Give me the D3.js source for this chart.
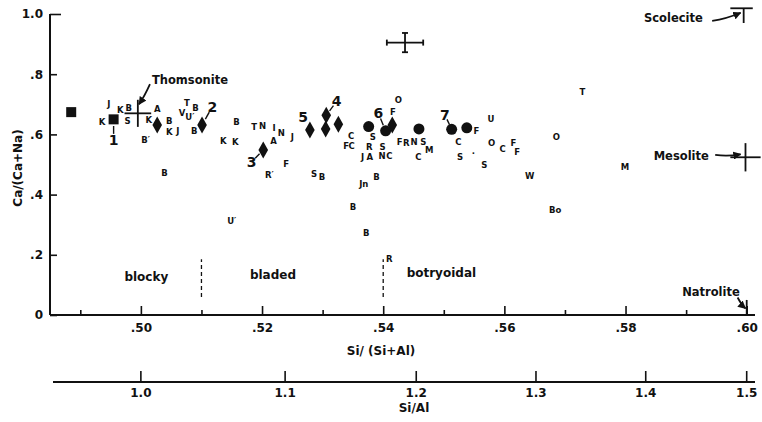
<!DOCTYPE html>
<html>
<head>
<meta charset="utf-8">
<script src="https://cdn.jsdelivr.net/npm/d3@7"></script>
<style>
  body { margin: 0; background: #fff; }
  text { font-family: "DejaVu Sans", sans-serif; font-weight: 700; fill: #111; }
</style>
</head>
<body>
<div id="chart"></div>
<script>
// Datos
const siTicks = [0.50, 0.52, 0.54, 0.56, 0.58, 0.60];
const siMinorTicks = [0.49, 0.51, 0.53, 0.55, 0.57, 0.59];
const caTicks = [0, 0.2, 0.4, 0.6, 0.8, 1.0];
const siAlTicks = [1.0, 1.1, 1.2, 1.3, 1.4, 1.5];

// analysed samples [Si/(Si+Al), Ca/(Ca+Na)]
const squares = [[0.4885, 0.674], [0.4955, 0.650]];
const diamonds = [[0.5027, 0.631], [0.5101, 0.631], [0.5202, 0.548], [0.5279, 0.615],
  [0.5306, 0.664], [0.5305, 0.618], [0.5326, 0.634], [0.5415, 0.631]];
const circles = [[0.5376, 0.626], [0.5404, 0.612], [0.5459, 0.618], [0.5513, 0.617], [0.5538, 0.622]];

// numbered samples: label, marker x, marker y, label x, label y, leader line
const numbered = [
  ["1", 0.4955, 0.650, 0.4955, 0.581, true],
  ["2", 0.5101, 0.631, 0.5118, 0.692, true],
  ["3", 0.5202, 0.548, 0.5183, 0.509, true],
  ["4", 0.5306, 0.664, 0.5323, 0.709, true],
  ["5", 0.5279, 0.615, 0.5268, 0.657, false],
  ["6", 0.5404, 0.612, 0.5392, 0.670, true],
  ["7", 0.5513, 0.617, 0.5502, 0.664, true]
];

// literature data (letter codes)
const letters = [
  ["K", 0.4936, 0.642], ["J", 0.4947, 0.701], ["K", 0.4966, 0.681], ["B", 0.4980, 0.687],
  ["S", 0.4978, 0.645], ["K", 0.5013, 0.648], ["A", 0.5027, 0.685], ["B", 0.5047, 0.645],
  ["B\u2032", 0.5008, 0.581], ["K", 0.5047, 0.609], ["J", 0.5061, 0.611], ["T", 0.5076, 0.705],
  ["B", 0.5090, 0.687], ["V", 0.5068, 0.670], ["U\u2032", 0.5081, 0.657], ["B", 0.5088, 0.612],
  ["K", 0.5136, 0.578], ["B", 0.5039, 0.471], ["B", 0.5158, 0.642], ["K", 0.5156, 0.576],
  ["T", 0.5187, 0.626], ["N", 0.5201, 0.628], ["I", 0.5220, 0.620], ["N", 0.5232, 0.606],
  ["A", 0.5219, 0.579], ["J", 0.5250, 0.590], ["R\u2032", 0.5212, 0.465], ["F", 0.5240, 0.502],
  ["S", 0.5286, 0.468], ["B", 0.5299, 0.458], ["C", 0.5347, 0.595], ["F", 0.5339, 0.561],
  ["C", 0.5348, 0.561], ["S", 0.5383, 0.592], ["R", 0.5377, 0.557], ["J", 0.5366, 0.524],
  ["A", 0.5378, 0.524], ["S", 0.5399, 0.557], ["N", 0.5398, 0.528], ["C", 0.5410, 0.528],
  ["F", 0.5416, 0.675], ["O", 0.5425, 0.714], ["Jn", 0.5368, 0.435], ["B", 0.5389, 0.459],
  ["B", 0.5350, 0.360], ["B", 0.5372, 0.273], ["U\u2032", 0.5150, 0.312], ["R", 0.5410, 0.186],
  ["F", 0.5427, 0.576], ["R", 0.5438, 0.572], ["N", 0.5451, 0.576], ["S", 0.5466, 0.576],
  ["M", 0.5476, 0.548], ["C", 0.5458, 0.524], ["C", 0.5524, 0.576], ["S", 0.5527, 0.526],
  [".", 0.5549, 0.545], ["F", 0.5554, 0.612], ["U", 0.5578, 0.650], ["O", 0.5579, 0.570],
  ["C", 0.5597, 0.551], ["F", 0.5615, 0.573], ["F", 0.5621, 0.543], ["S", 0.5567, 0.498],
  ["W", 0.5642, 0.462], ["O", 0.5686, 0.591], ["Bo", 0.5684, 0.349], ["T", 0.5729, 0.742],
  ["M", 0.5799, 0.491]
];

// composition ranges: name, x, y, half-range x, half-range y
const crosses = [
  ["Thomsonite", 0.4995, 0.670, 0.0022, 0.045],
  ["Mesolite", 0.5998, 0.524, 0.0025, 0.047]
];
const errorBar = [0.5436, 0.905, 0.003, 0.032];

// mineral labels: text, label x, label y, arrow from, arrow to
const minerals = [
  ["Thomsonite", 0.5081, 0.781, [0.5015, 0.767], [0.4997, 0.700]],
  ["Scolecite", 0.5879, 0.986, [0.5943, 0.977], [0.5990, 1.004]],
  ["Mesolite", 0.5892, 0.529, [0.5948, 0.532], [0.5990, 0.534]],
  ["Natrolite", 0.5941, 0.076, [0.5985, 0.058], [0.5998, 0.022]]
];

const habits = [["blocky", 0.5009, 0.126], ["bladed", 0.5218, 0.133], ["botryoidal", 0.5496, 0.139]];
const habitLimits = [0.51, 0.54];

svgWidth = 762;
svgHeight = 422;

const svg = d3.select("#chart")
  .append("svg")
  .attr("width", svgWidth)
  .attr("height", svgHeight);

const x = d3.scaleLinear().domain([0.485, 0.60137]).range([50, 755]);
const y = d3.scaleLinear().domain([0, 1]).range([315, 14]);
const xr = r => x(r / (1 + r)); // Si/Al -> position

// arrow head
svg.append("defs").append("marker")
  .attr("id", "head")
  .attr("viewBox", "0 0 10 10")
  .attr("refX", 9).attr("refY", 5)
  .attr("markerWidth", 4.5).attr("markerHeight", 4.5)
  .attr("orient", "auto")
  .append("path")
  .attr("d", "M0,0 L10,5 L0,10 Z")
  .attr("fill", "#111");

// ejes
const ax = svg.append("g").attr("transform", `translate(0, ${y(0)})`)
  .call(d3.axisBottom(x).tickValues(siTicks).tickSize(-9).tickSizeOuter(0).tickPadding(8)
    .tickFormat(d => d3.format(".2f")(d).replace(/^0/, "")));
ax.select(".domain").remove();
ax.selectAll("text").attr("font-size", 12);

const axm = svg.append("g").attr("transform", `translate(0, ${y(0)})`)
  .call(d3.axisBottom(x).tickValues(siMinorTicks).tickSize(-5).tickFormat(""));
axm.select(".domain").remove();

const ay = svg.append("g").attr("transform", `translate(${x.range()[0]}, 0)`)
  .call(d3.axisLeft(y).tickValues(caTicks).tickSize(-7).tickSizeOuter(0).tickPadding(7)
    .tickFormat(d => d === 0 ? "0" : d === 1 ? "1.0" : d3.format(".1f")(d).replace(/^0/, "")));
ay.select(".domain").remove();
ay.selectAll("text").attr("font-size", 12);
ay.selectAll(".tick line").filter(d => d === 1).attr("x2", 11);

svg.selectAll(".tick line").attr("stroke", "#111").attr("stroke-width", 1.6);

svg.append("line")
  .attr("x1", x.range()[0]).attr("x2", x.range()[1])
  .attr("y1", y(0)).attr("y2", y(0))
  .attr("stroke", "#111").attr("stroke-width", 2);
svg.append("line")
  .attr("x1", x.range()[0]).attr("x2", x.range()[0])
  .attr("y1", y(0)).attr("y2", y(1))
  .attr("stroke", "#111").attr("stroke-width", 2);

// Si/Al axis
const siAlY = 382;
svg.append("line")
  .attr("x1", 53).attr("x2", 755)
  .attr("y1", siAlY).attr("y2", siAlY)
  .attr("stroke", "#111").attr("stroke-width", 2);
svg.selectAll(".sial-tick").data(siAlTicks).enter().append("line")
  .attr("x1", d => xr(d)).attr("x2", d => xr(d))
  .attr("y1", siAlY).attr("y2", siAlY - 11)
  .attr("stroke", "#111").attr("stroke-width", 1.6);
svg.selectAll(".sial-label").data(siAlTicks).enter().append("text")
  .attr("x", d => xr(d)).attr("y", siAlY + 15)
  .attr("text-anchor", "middle").attr("font-size", 12)
  .text(d => d3.format(".1f")(d));

// titulos
svg.append("text").attr("x", 381).attr("y", 355).attr("text-anchor", "middle")
  .attr("font-size", 12).text("Si/ (Si+Al)");
svg.append("text").attr("x", 414).attr("y", 412).attr("text-anchor", "middle")
  .attr("font-size", 12).text("Si/Al");
svg.append("text").attr("transform", "translate(22,168) rotate(-90)")
  .attr("text-anchor", "middle").attr("font-size", 12).text("Ca/(Ca+Na)");

// habit fields
svg.selectAll(".limit").data(habitLimits).enter().append("line")
  .attr("x1", d => x(d)).attr("x2", d => x(d))
  .attr("y1", y(0.06)).attr("y2", y(0.185))
  .attr("stroke", "#111").attr("stroke-width", 1.3).attr("stroke-dasharray", "4,3");
svg.selectAll(".habit").data(habits).enter().append("text")
  .attr("x", d => x(d[1])).attr("y", d => y(d[2]))
  .attr("dy", "0.35em").attr("text-anchor", "middle").attr("font-size", 12)
  .text(d => d[0]);

// crosses
const cr = svg.selectAll(".cross").data(crosses).enter().append("g");
cr.append("line")
  .attr("x1", d => x(d[1] - d[3])).attr("x2", d => x(d[1] + d[3]))
  .attr("y1", d => y(d[2])).attr("y2", d => y(d[2]))
  .attr("stroke", "#111").attr("stroke-width", 1.8);
cr.append("line")
  .attr("x1", d => x(d[1])).attr("x2", d => x(d[1]))
  .attr("y1", d => y(d[2] - d[4])).attr("y2", d => y(d[2] + d[4]))
  .attr("stroke", "#111").attr("stroke-width", 1.8);

// scolecite and natrolite
svg.append("line").attr("x1", x(0.5973)).attr("x2", x(0.6010)).attr("y1", y(1.019)).attr("y2", y(1.019))
  .attr("stroke", "#111").attr("stroke-width", 1.8);
svg.append("line").attr("x1", x(0.5995)).attr("x2", x(0.5995)).attr("y1", y(1.019)).attr("y2", y(0.97))
  .attr("stroke", "#111").attr("stroke-width", 1.8);
svg.append("line").attr("x1", x(0.6)).attr("x2", x(0.6)).attr("y1", y(0)).attr("y2", y(0.05))
  .attr("stroke", "#111").attr("stroke-width", 1.8);

// error bar
const [ex, ey, edx, edy] = errorBar;
const eb = svg.append("g").attr("stroke", "#111").attr("stroke-width", 1.8);
eb.append("line").attr("x1", x(ex - edx)).attr("x2", x(ex + edx)).attr("y1", y(ey)).attr("y2", y(ey));
eb.append("line").attr("x1", x(ex)).attr("x2", x(ex)).attr("y1", y(ey - edy)).attr("y2", y(ey + edy));
[ex - edx, ex + edx].forEach(v => eb.append("line").attr("x1", x(v)).attr("x2", x(v))
  .attr("y1", y(ey) - 3).attr("y2", y(ey) + 3));
[ey - edy, ey + edy].forEach(v => eb.append("line").attr("x1", x(ex) - 3).attr("x2", x(ex) + 3)
  .attr("y1", y(v)).attr("y2", y(v)));

// mineral labels
const mn = svg.selectAll(".mineral").data(minerals).enter().append("g");
mn.append("text")
  .attr("x", d => x(d[1])).attr("y", d => y(d[2]))
  .attr("dy", "0.35em").attr("text-anchor", "middle").attr("font-size", 11.5)
  .text(d => d[0]);
mn.append("path")
  .attr("d", d => {
    const x0 = x(d[3][0]), y0 = y(d[3][1]), x1 = x(d[4][0]), y1 = y(d[4][1]);
    return `M${x0},${y0} Q${(x0 + x1) / 2},${(y0 + y1) / 2 + 2} ${x1},${y1}`;
  })
  .attr("fill", "none").attr("stroke", "#111").attr("stroke-width", 1.8)
  .attr("marker-end", "url(#head)");

// letter codes
svg.selectAll(".code").data(letters).enter().append("text")
  .attr("x", d => x(d[1])).attr("y", d => y(d[2]))
  .attr("dy", "0.36em").attr("text-anchor", "middle").attr("font-size", 8.5)
  .text(d => d[0]);

// marcadores
svg.selectAll(".sq").data(squares).enter().append("rect")
  .attr("x", d => x(d[0]) - 5).attr("y", d => y(d[1]) - 5)
  .attr("width", 10).attr("height", 10).attr("fill", "#111");
svg.selectAll(".dm").data(diamonds).enter().append("path")
  .attr("d", d => {
    const cx = x(d[0]), cy = y(d[1]);
    return `M${cx},${cy - 8.5} L${cx + 4.8},${cy} L${cx},${cy + 8.5} L${cx - 4.8},${cy} Z`;
  })
  .attr("fill", "#111");
svg.selectAll(".ci").data(circles).enter().append("circle")
  .attr("cx", d => x(d[0])).attr("cy", d => y(d[1])).attr("r", 5.5).attr("fill", "#111");

// numbered samples
const nb = svg.selectAll(".num").data(numbered).enter().append("g");
nb.append("text")
  .attr("x", d => x(d[3])).attr("y", d => y(d[4]))
  .attr("dy", "0.35em").attr("text-anchor", "middle").attr("font-size", 14)
  .text(d => d[0]);
nb.filter(d => d[5]).append("line")
  .attr("x1", d => x(d[3]) + 0.3 * (x(d[1]) - x(d[3])))
  .attr("y1", d => y(d[4]) + 0.3 * (y(d[2]) - y(d[4])))
  .attr("x2", d => x(d[3]) + 0.68 * (x(d[1]) - x(d[3])))
  .attr("y2", d => y(d[4]) + 0.68 * (y(d[2]) - y(d[4])))
  .attr("stroke", "#111").attr("stroke-width", 1.4);
</script>
</body>
</html>
